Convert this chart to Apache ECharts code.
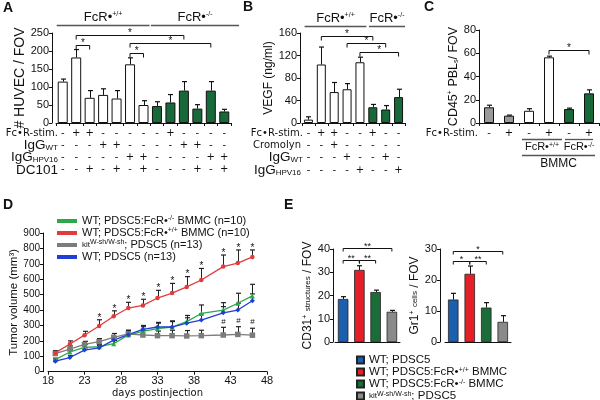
<!DOCTYPE html>
<html><head><meta charset="utf-8">
<script src="https://cdn.jsdelivr.net/npm/echarts@6/dist/echarts.min.js"></script>
<style>html,body{margin:0;padding:0;background:#fff}#c{width:600px;height:400px}</style>
</head><body><div id="c"></div>
<script>
// ================= DATA =================
// Panel A – HUVEC / FOV
const aFcrStim  = ['-','+','+','-','-','-','-','-','+','-','-','-','-'];
const aIgGWT    = ['-','-','-','+','+','-','-','-','-','+','+','-','-'];
const aIgGHPV16 = ['-','-','-','-','-','+','+','-','-','-','-','+','+'];
const aDC101    = ['-','-','+','-','+','-','+','-','-','-','+','-','+'];
const aGenotype = ['+/+','+/+','+/+','+/+','+/+','+/+','+/+','-/-','-/-','-/-','-/-','-/-','-/-'];
const huvecMean = [115,182,70,78,68,163,50,47,57,90,40,90,32];
const huvecErr  = [7,22,20,17,22,18,12,12,22,25,11,25,6];
const huvecSig  = [[1,2,'*'],[1,9,'*'],[5,11,'*'],[5,6,'*']];
const aTicks = [0,50,100,150,200,250];

// Panel B – VEGF
const bFcrStim  = ['-','+','+','-','-','+','-','-'];
const bCromolyn = ['-','-','+','-','-','-','-','-'];
const bIgGWT    = ['-','-','-','+','-','-','+','-'];
const bIgGHPV16 = ['-','-','-','-','+','-','-','+'];
const bGenotype = ['+/+','+/+','+/+','+/+','+/+','-/-','-/-','-/-'];
const vegfMean  = [6,104,55,60,108,28,24,46];
const vegfErr   = [5,31,17,10,9,5,7,14];
const vegfSig   = [[1,5,'*'],[3,6,'*'],[4,7,'*']];
const bTicks = [0,40,80,120,160];

// Panel C – CD45+ PBLs
const cFcrStim  = ['-','+','-','+','-','+'];
const cBMMC     = ['none','none','+/+','+/+','-/-','-/-'];
const cd45Mean  = [13.5,6.3,10.5,56.5,12,25.5];
const cd45Err   = [1.8,0.5,1.8,1,0.8,3];
const cd45Sig   = [[3,5,'*']];
const cTicks = [0,20,40,60,80];

// Panel D – tumor volume
const days       = [19,21,23,25,27,29,31,33,35,37,39,42,44,46];
const tumorGreen = [78,128,158,162,182,238,262,280,290,325,378,400,444,492];
const tumorGreenErr = [10,15,20,15,20,25,30,35,40,40,55,48,65,75];
const tumorRed   = [122,180,237,297,360,413,430,478,510,550,595,682,705,745];
const tumorRedErr = [15,20,25,40,35,37,40,50,63,67,75,75,85,45];
const tumorRedMark = ['','','','*','*','*','*','*','*','*','*','*','*','*'];
const tumorGray  = [118,147,177,195,223,245,238,234,234,232,234,238,242,237];
const tumorGrayErr = [15,20,20,20,25,25,30,30,35,35,35,50,50,45];
const tumorGrayMark = ['','','','','','','','','','','','#','#','#'];
const tumorBlue  = [68,92,140,155,205,240,275,290,290,315,335,382,400,460];
const tumorBlueErr = [8,12,15,15,20,25,25,30,35,35,40,40,45,45];
const dSeriesNames = ['WT; PDSC5:FcR•-/- BMMC (n=10)','WT; PDSC5:FcR•+/+ BMMC (n=10)','kit^W-sh/W-sh; PDSC5 (n=13)','WT; PDSC5 (n=13)'];

// Panel E – CD31+ structures and Gr1+ cells
const eGroups  = ['WT; PDSC5','WT; PDSC5:FcR•+/+ BMMC','WT; PDSC5:FcR•-/- BMMC','kit^W-sh/W-sh; PDSC5'];
const cd31Mean = [18.5,31,21.5,13];
const cd31Err  = [1,1.8,0.8,0.6];
const cd31Sig  = [[0,3,'**'],[0,1,'**'],[1,2,'**']];
const gr1Mean  = [13.7,22,11.1,6.5];
const gr1Err   = [2,2.5,1.6,2];
const gr1Sig   = [[0,3,'*'],[0,1,'*'],[1,2,'**']];

// ================= LAYOUT / STYLE =================
const F = 'Liberation Sans, Arial, sans-serif';
const FW = 'DejaVu Sans, Verdana, sans-serif';
const INK = '#111';
const WHITE = '#ffffff', DKGREEN = '#17693a', GREY = '#9a9a9a';
const dColors = ['#2ca84a','#e23b3b','#7c7c7c','#1e3fd6'];
const eColors = ['#1b5fae','#e41f27','#1b6c39','#8a8a8a'];
const huvecSigLevel = [217,244,222,194];
const vegfSigLevel  = [155,142,126];
const cd45SigLevel  = [63];
const cd31SigLevel  = [40.3,35.2,35.2];
const gr1SigLevel   = [29.4,26.1,26.1];

const RICH_M = { // model-level rich (axis names, legends)
  sup:{fontSize:7, verticalAlign:'top', lineHeight:6, fontFamily:F, color:INK},
  sub:{fontSize:7, verticalAlign:'bottom', lineHeight:6, fontFamily:F, color:INK},
  sm:{fontSize:8, fontFamily:F, color:INK}
};
const RICH_Z = { // zrender-level rich (graphic / custom)
  sup:{fontSize:7, verticalAlign:'top', lineHeight:6, fontFamily:F, fill:INK},
  sub:{fontSize:8, verticalAlign:'bottom', lineHeight:7, fontFamily:F, fill:INK},
  sm:{fontSize:8, fontFamily:F, fill:INK}
};
function richName(n){
  return n.replace(/FcR•([+\-]\/[+\-])/g,'FcR•{sup|$1}').replace(/kit\^([^;]+);/,'{sm|kit}{sup|$1};');
}

function axisBase(extra){
  return Object.assign({
    axisLine:{show:true, lineStyle:{color:INK, width:1}},
    axisTick:{show:true, length:3, lineStyle:{color:INK}},
    splitLine:{show:false},
    axisLabel:{color:INK, fontFamily:F, fontSize:11, margin:3}
  }, extra);
}
function catAxis(gi, n, fmt, lh, extra){
  return axisBase(Object.assign({
    type:'category', gridIndex:gi, data:Array.from({length:n},(_, i)=>'c'+i),
    axisTick:{show:true, length:3, alignWithLabel:false, lineStyle:{color:INK}},
    axisLabel:{show:!!fmt, interval:0, formatter:fmt, fontFamily:FW, fontSize:10, lineHeight:lh||12, margin:4, color:INK}
  }, extra||{}));
}
function valAxis(gi, ticks, extra){
  return axisBase(Object.assign({
    type:'value', gridIndex:gi, min:ticks[0], max:ticks[ticks.length-1], interval:ticks[1]-ticks[0],
    nameLocation:'middle', nameRotate:90,
    nameTextStyle:{fontFamily:F, color:INK, fontSize:12, rich:RICH_M}
  }, extra||{}));
}

function errSeries(gi, xs, lo, err, opt){
  opt = opt || {};
  return {
    type:'custom', xAxisIndex:gi, yAxisIndex:gi, clip:false, silent:true, z:opt.z||4,
    data: xs.map((x,i)=>[x, lo[i], lo[i]+err[i]]),
    encode:{x:0, y:[1,2]},
    renderItem:function(params, api){
      const x0 = api.value(0);
      const a = api.coord([x0, api.value(1)]), b = api.coord([x0, api.value(2)]);
      const x = Math.round(a[0]) + 0.5, cap = opt.cap || 2.5;
      const kids = [
        {type:'line', shape:{x1:x, y1:a[1], x2:x, y2:b[1]}, style:{stroke:opt.color||INK, lineWidth:1}},
        {type:'line', shape:{x1:x-cap, y1:b[1], x2:x+cap, y2:b[1]}, style:{stroke:opt.color||INK, lineWidth:1.2}}
      ];
      const m = opt.marks ? opt.marks[params.dataIndex] : '';
      if (m) kids.push({type:'text', x:x, y:b[1] + (m==='#' ? -2 : 3),
        style:{text:m, fill:INK, fontFamily:F, fontSize:m==='#'?8:10, align:'center', verticalAlign:'bottom'}});
      return {type:'group', children:kids};
    }
  };
}

function sigSeries(gi, pairs, levels, opt){
  opt = opt || {};
  return {
    type:'custom', xAxisIndex:gi, yAxisIndex:gi, clip:false, silent:true, z:6,
    data: pairs.map((p,i)=>[p[0], p[1], levels[i]]),
    encode:{x:[0,1], y:2},
    renderItem:function(params, api){
      const p = pairs[params.dataIndex], lv = levels[params.dataIndex];
      const a = api.coord([p[0], lv]), b = api.coord([p[1], lv]);
      const y = Math.round(a[1]) + 0.5, t = opt.tick != null ? opt.tick : 4;
      return {type:'group', children:[
        {type:'polyline', shape:{points:[[a[0],y+t],[a[0],y],[b[0],y],[b[0],y+t]]}, style:{stroke:INK, lineWidth:1, fill:null}},
        {type:'text', x:(a[0]+b[0])/2, y:y+3, style:{text:p[2], fill:INK, fontFamily:F, fontSize:opt.fs||10, align:'center', verticalAlign:'bottom'}}
      ]};
    }
  };
}

// groups: [from, to, level, text, below?, extL, extR, fontSize]
function groupSeries(gi, groups){
  return {
    type:'custom', xAxisIndex:gi, yAxisIndex:gi, clip:false, silent:true, z:6,
    data: groups.map(g=>[g[0], g[1], g[2]]),
    encode:{x:[0,1], y:2},
    renderItem:function(params, api){
      const g = groups[params.dataIndex];
      const bw = api.size([1,0],[g[0], g[2]])[0];
      const a = api.coord([g[0], g[2]]), b = api.coord([g[1], g[2]]);
      const x1 = a[0] - g[5]*bw, x2 = b[0] + g[6]*bw, y = Math.round(a[1]) + 0.5;
      return {type:'group', children:[
        {type:'line', shape:{x1:x1, y1:y, x2:x2, y2:y}, style:{stroke:'#555', lineWidth:1.3}},
        {type:'text', x:(x1+x2)/2, y:g[4] ? y+2 : y-2,
          style:{text:g[3], rich:RICH_Z, fill:INK, fontFamily:F, fontSize:g[7]||13, align:'center', verticalAlign:g[4]?'top':'bottom'}}
      ]};
    }
  };
}

// ================= BUILD =================
const genoColor = g => g==='+/+' ? WHITE : g==='-/-' ? DKGREEN : GREY;
const barItem = (v, c) => ({value:v, itemStyle:{color:c, borderColor:INK, borderWidth:1}});

const grids = [
  {left:56, top:33, width:175, height:90},   // A
  {left:302, top:33, width:103, height:90},  // B
  {left:479, top:30, width:120, height:93},  // C
  {left:48, top:233, width:219, height:138.7}, // D
  {left:335, top:249, width:65, height:93},  // E1
  {left:445, top:249, width:66, height:93}   // E2
].map(g=>Object.assign({outerBoundsMode:'none', containLabel:false}, g));

const xAxes = [
  catAxis(0, huvecMean.length, (v,i)=>[aFcrStim[i],aIgGWT[i],aIgGHPV16[i],aDC101[i]].join('\n'), 12.2),
  catAxis(1, vegfMean.length, (v,i)=>[bFcrStim[i],bCromolyn[i],bIgGWT[i],bIgGHPV16[i]].join('\n'), 12.3),
  catAxis(2, cd45Mean.length, (v,i)=>cFcrStim[i], 12),
  axisBase({type:'value', gridIndex:3, min:18, max:48, interval:5,
    name:'days postinjection', nameLocation:'middle', nameGap:17,
    nameTextStyle:{fontFamily:FW, fontSize:10, color:INK},
    axisLabel:{color:INK, fontFamily:F, fontSize:11, margin:4}}),
  catAxis(4, 4, null, 12, {axisTick:{show:false}}),
  catAxis(5, 4, null, 12, {axisTick:{show:false}})
];
const yAxes = [
  valAxis(0, aTicks, {offset:4, name:'# HUVEC / FOV', nameGap:23, nameTextStyle:{fontFamily:F, color:INK, fontSize:14, rich:RICH_M}}),
  valAxis(1, bTicks, {offset:2, name:'VEGF (ng/ml)', nameGap:21}),
  valAxis(2, cTicks, {name:'CD45{sup|+} PBL{sub|s}/ FOV', nameGap:14, nameTextStyle:{fontFamily:F, color:INK, fontSize:12.5, rich:RICH_M}}),
  valAxis(3, [0,100,200,300,400,500,600,700,800,900], {offset:5, name:'Tumor volume (mm³)', nameGap:17,
    axisLabel:{color:INK, fontFamily:F, fontSize:10, margin:3},
    nameTextStyle:{fontFamily:F, color:INK, fontSize:11.5, rich:RICH_M}}),
  valAxis(4, [0,10,20,30,40], {offset:2, name:'CD31{sup|+} {sm|structures} / FOV', nameGap:12}),
  valAxis(5, [0,10,20,30], {offset:5, name:'Gr1{sup|+} {sm|cells} / FOV', nameGap:13})
];

const idx = arr => arr.map((_, i) => i);
const series = [];
// A
series.push({type:'bar', xAxisIndex:0, yAxisIndex:0, barWidth:10, z:2,
  data: huvecMean.map((v,i)=>barItem(v, genoColor(aGenotype[i])))});
series.push(errSeries(0, idx(huvecMean), huvecMean, huvecErr));
series.push(sigSeries(0, huvecSig, huvecSigLevel));
series.push(groupSeries(0, [[0,6,272,'FcR•{sup|+/+}',false,0.45,0.45,13],[7,12,272,'FcR•{sup|-/-}',false,0.45,1.1,13]]));
// B
series.push({type:'bar', xAxisIndex:1, yAxisIndex:1, barWidth:9, z:2,
  data: vegfMean.map((v,i)=>barItem(v, genoColor(bGenotype[i])))});
series.push(errSeries(1, idx(vegfMean), vegfMean, vegfErr));
series.push(sigSeries(1, vegfSig, vegfSigLevel));
series.push(groupSeries(1, [[0,4,172,'FcR•{sup|+/+}',false,0.3,0.5,13],[5,7,172,'FcR•{sup|-/-}',false,0.3,0.5,13]]));
// C
series.push({type:'bar', xAxisIndex:2, yAxisIndex:2, barWidth:10, z:2,
  data: cd45Mean.map((v,i)=>barItem(v, genoColor(cBMMC[i])))});
series.push(errSeries(2, idx(cd45Mean), cd45Mean, cd45Err));
series.push(sigSeries(2, cd45Sig, cd45SigLevel));
series.push(groupSeries(2, [[2,3,-13.8,'FcR•{sup|+/+}',true,0.35,0.65,11],[4,5,-13.8,'FcR•{sup|-/-}',true,0.2,0.2,11],[2,5,-27.5,'BMMC',true,0.35,0.3,12]]));
// D
const dVals = [tumorGreen, tumorRed, tumorGray, tumorBlue];
const dErrs = [tumorGreenErr, tumorRedErr, tumorGrayErr, tumorBlueErr];
const dSym = ['triangle','circle','rect','diamond'];
const dSize = [5,4.5,5.5,5];
const dMarks = [null, tumorRedMark, tumorGrayMark, null];
[2,0,3,1].forEach(k=>{
  series.push(errSeries(3, days, dVals[k], dErrs[k], {marks:dMarks[k], cap:2.5, z:3, color:'#222'}));
});
[2,0,3,1].forEach(k=>{
  series.push({type:'line', name:dSeriesNames[k], xAxisIndex:3, yAxisIndex:3, z:4,
    data: days.map((d,i)=>[d, dVals[k][i]]),
    symbol:dSym[k], symbolSize:dSize[k], showSymbol:true,
    lineStyle:{color:dColors[k], width:1.3}, itemStyle:{color:dColors[k]}});
});
// E1 / E2
[[4, cd31Mean, cd31Err, cd31Sig, cd31SigLevel],[5, gr1Mean, gr1Err, gr1Sig, gr1SigLevel]].forEach(([gi, m, e, s, lv])=>{
  eGroups.forEach((name, k)=>{
    series.push({type:'bar', name:name, xAxisIndex:gi, yAxisIndex:gi, barWidth:10.5, barGap:'-100%', z:2,
      itemStyle:{color:eColors[k], borderColor:'#222', borderWidth:0.8},
      data: m.map((v,j)=> j===k ? v : '-')});
  });
  series.push(errSeries(gi, idx(m), m, e));
  series.push(sigSeries(gi, s, lv, {tick:3, fs:9}));
});

// ================= TEXT (panel letters, table row labels) =================
const T = (x, y, text, fs, align, fam) => ({type:'text', x:x, y:y, silent:true,
  style:{text:text, rich:RICH_Z, fill:INK, fontFamily:fam||F, fontSize:fs, align:align||'left', verticalAlign:'middle'}});
const L = (x, y, text) => ({type:'text', x:x, y:y, silent:true,
  style:{text:text, fill:INK, fontFamily:F, fontSize:14, fontWeight:'bold', verticalAlign:'middle'}});
const graphic = [
  L(3,8,'A'), L(243,7,'B'), L(424,7,'C'), L(3,205,'D'), L(284,205,'E'),
  // A table
  T(58,133,'Fc•R-stim.',10,'right',FW),
  T(58,145,'IgG{sub|WT}',13.5,'right'),
  T(58,157,'IgG{sub|HPV16}',13.5,'right'),
  T(58,170,'DC101',13.5,'right'),
  // B table
  T(303,133,'Fc•R-stim.',10,'right',FW),
  T(301,145,'Cromolyn',10,'right',FW),
  T(303,157,'IgG{sub|WT}',13.5,'right'),
  T(301,170,'IgG{sub|HPV16}',13.5,'right'),
  // C table
  T(478,133,'Fc•R-stim.',10,'right',FW)
];

const legendText = {fontFamily:F, fontSize:11, color:INK, lineHeight:12, rich:RICH_M};
const option = {
  animation:false,
  backgroundColor:'#fff',
  grid:grids, xAxis:xAxes, yAxis:yAxes, series:series, graphic:graphic,
  legend:[
    {orient:'vertical', left:57, top:215, width:240, height:60, itemWidth:20, itemHeight:4, itemGap:0, icon:'rect',
      selectedMode:false, data:dSeriesNames, textStyle:legendText, formatter:richName, padding:0},
    {orient:'vertical', left:356, top:354, width:240, height:60, itemWidth:7, itemHeight:7, itemGap:0, icon:'rect',
      selectedMode:false, data:eGroups, textStyle:Object.assign({}, legendText, {fontSize:11.5, lineHeight:11.7}), formatter:richName, padding:0}
  ]
};
const chart = echarts.init(document.getElementById('c'), null, {renderer:'canvas', width:600, height:400});
chart.setOption(option);
</script></body></html>
